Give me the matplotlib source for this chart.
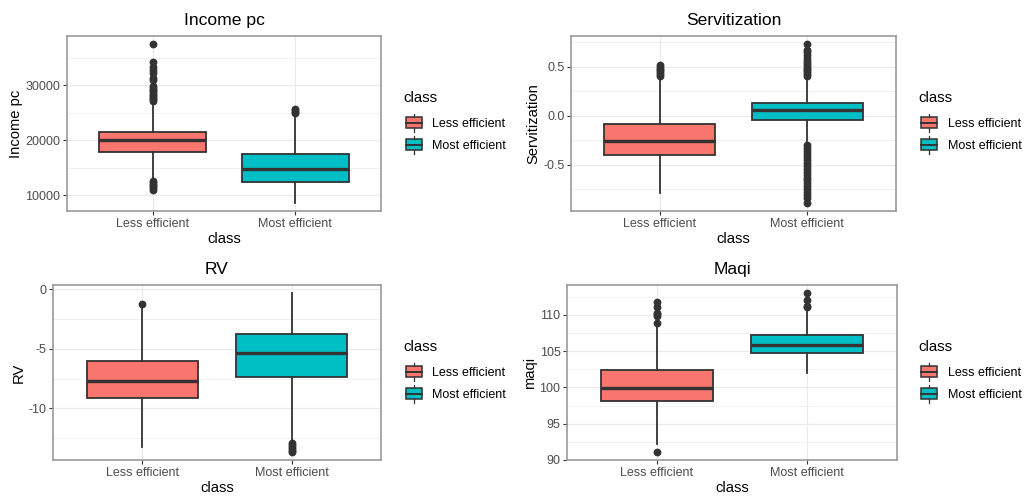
import matplotlib
matplotlib.use("Agg")
import matplotlib.pyplot as plt
from matplotlib.patches import Rectangle, Patch
from matplotlib.lines import Line2D
from matplotlib.legend_handler import HandlerBase
from matplotlib.ticker import FixedLocator

plt.rcParams["font.family"] = ["Liberation Sans", "DejaVu Sans"]
plt.rcParams["axes.unicode_minus"] = False

classes = ["Less efficient", "Most efficient"]
fills = ["#F8766D", "#00BFC4"]

# box summaries per class: [Less efficient, Most efficient]
income_med = [19950, 14700]
income_q1 = [17850, 12400]
income_q3 = [21450, 17450]
income_lo = [12800, 8550]
income_hi = [26900, 24800]
income_out = [
    [11000, 11300, 11600, 11900, 12200, 12500,
     27100, 27400, 27700, 28000, 28300, 28600, 28900, 29200, 29500, 29800,
     30900, 31300, 32300, 32800, 33300, 34200, 37500],
    [25000, 25200, 25400, 25600],
]

serv_med = [-0.258, 0.058]
serv_q1 = [-0.398, -0.040]
serv_q3 = [-0.088, 0.133]
serv_lo = [-0.785, -0.27]
serv_hi = [0.38, 0.38]
serv_out = [
    [0.40, 0.42, 0.44, 0.46, 0.48, 0.50, 0.52],
    [0.40, 0.42, 0.44, 0.46, 0.48, 0.50, 0.52, 0.54, 0.56, 0.59, 0.62, 0.65, 0.67, 0.73,
     -0.30, -0.33, -0.36, -0.39, -0.42, -0.45, -0.48, -0.51, -0.54, -0.57, -0.60,
     -0.63, -0.66, -0.69, -0.72, -0.75, -0.78, -0.81, -0.84, -0.89],
]

rv_med = [-7.71, -5.34]
rv_q1 = [-9.12, -7.40]
rv_q3 = [-6.00, -3.76]
rv_lo = [-13.28, -12.80]
rv_hi = [-1.40, -0.31]
rv_out = [
    [-1.22],
    [-12.95, -13.10, -13.25, -13.40, -13.55, -13.67],
]

maqi_med = [99.95, 105.9]
maqi_q1 = [98.1, 104.7]
maqi_q3 = [102.4, 107.2]
maqi_lo = [92.25, 102.0]
maqi_hi = [108.6, 110.8]
maqi_out = [
    [91.1, 108.9, 109.8, 110.1, 110.3, 111.0, 111.8],
    [111.0, 111.2, 112.0, 113.0],
]

# (title, y label, stats..., major breaks, minor breaks, label format,
#  panel box in px [left, top, right, bottom], legend anchor in px [x, title y])
panels = [
    ("Income pc", "Income pc", income_med, income_q1, income_q3, income_lo, income_hi, income_out,
     [10000, 20000, 30000], [15000, 25000, 35000], "{:.0f}",
     [67, 36, 381, 211], [403, 98]),
    ("Servitization", "Servitization", serv_med, serv_q1, serv_q3, serv_lo, serv_hi, serv_out,
     [-0.5, 0.0, 0.5], [-0.75, -0.25, 0.25, 0.75], "{:.1f}",
     [571, 36, 896, 211], [918, 98]),
    ("RV", "RV", rv_med, rv_q1, rv_q3, rv_lo, rv_hi, rv_out,
     [-10, -5, 0], [-12.5, -7.5, -2.5], "{:.0f}",
     [53, 285, 381, 460], [403, 347]),
    ("Maqi", "maqi", maqi_med, maqi_q1, maqi_q3, maqi_lo, maqi_hi, maqi_out,
     [90, 95, 100, 105, 110], [92.5, 97.5, 102.5, 107.5, 112.5], "{:.0f}",
     [567, 285, 897, 460], [918, 347]),
]

W, H = 1024, 496
dark = "#333333"
grid = "#EBEBEB"


class BoxKeyHandler(HandlerBase):
    # small boxplot glyph used as legend key
    def create_artists(self, legend, orig_handle, xdescent, ydescent,
                       width, height, fontsize, trans):
        x0, y0 = -xdescent, -ydescent
        bot, top = y0 + 0.18 * height, y0 + 0.82 * height
        box = Rectangle((x0 + 0.04 * width, bot), 0.92 * width, top - bot,
                        facecolor=orig_handle.get_facecolor(), edgecolor=dark,
                        lw=1.1, transform=trans)
        cx = x0 + width / 2
        w1 = Line2D([cx, cx], [y0, bot], color=dark, lw=0.9, transform=trans)
        w2 = Line2D([cx, cx], [top, y0 + height], color=dark, lw=0.9, transform=trans)
        med = Line2D([x0 + 0.04 * width, x0 + 0.96 * width], [(bot + top) / 2] * 2,
                     color=dark, lw=1.4, transform=trans)
        return [box, w1, w2, med]


fig = plt.figure(figsize=(W / 100, H / 100), dpi=100)

for (title, ylab, med, q1, q3, lo, hi, out, major, minor, fmt, box_px, leg_px) in panels:
    l, t, r, b = box_px
    ax = fig.add_axes([l / W, 1 - b / H, (r - l) / W, (b - t) / H])

    stats = []
    for i in range(len(classes)):
        stats.append({"med": med[i], "q1": q1[i], "q3": q3[i],
                      "whislo": lo[i], "whishi": hi[i], "fliers": out[i],
                      "label": classes[i]})
    bp = ax.bxp(stats, positions=[1, 2], widths=0.75, patch_artist=True,
                showcaps=False, zorder=3,
                boxprops=dict(edgecolor=dark, linewidth=1.3),
                whiskerprops=dict(color=dark, linewidth=1.3),
                medianprops=dict(color=dark, linewidth=2.4),
                flierprops=dict(marker="o", markerfacecolor=dark, markeredgecolor=dark,
                                markersize=4.6, linestyle="none"))
    for patch, fc in zip(bp["boxes"], fills):
        patch.set_facecolor(fc)

    # ggplot-style 5% expansion of the data range
    vals = lo + hi + [v for o in out for v in o]
    vmin, vmax = min(vals), max(vals)
    pad = (vmax - vmin) * 0.05
    ax.set_ylim(vmin - pad, vmax + pad)
    ax.set_xlim(0.4, 2.6)

    ax.yaxis.set_major_locator(FixedLocator(major))
    ax.yaxis.set_minor_locator(FixedLocator(minor))
    ax.set_yticks(major)
    ax.set_yticklabels([fmt.format(v) for v in major])
    ax.set_xticks([1, 2])
    ax.set_xticklabels(classes)

    ax.set_axisbelow(True)
    ax.grid(True, which="major", color=grid, lw=0.9, zorder=0)
    ax.grid(True, which="minor", axis="y", color=grid, lw=0.5, zorder=0)
    for sp in ax.spines.values():
        sp.set_color("#9a9a9a")
        sp.set_linewidth(1.2)
    ax.tick_params(axis="both", which="major", length=2.7, width=0.8, color=dark,
                   labelsize=9, labelcolor="#4D4D4D", pad=2)
    ax.tick_params(axis="y", which="minor", length=0)

    ax.set_title(title, fontsize=12.6, color="black", pad=8)
    ax.set_xlabel("class", fontsize=10.6, labelpad=1.5)
    ax.set_ylabel(ylab, fontsize=10.6, labelpad=2)

    # legend: title drawn as text, keys as a frameless legend beneath it
    lx, ty = leg_px
    fig.text(lx / W, 1 - ty / H, "class", fontsize=10.8, ha="left", va="center")
    handles = [Patch(facecolor=fc, label=c) for fc, c in zip(fills, classes)]
    fig.legend(handles=handles, handler_map={Patch: BoxKeyHandler()},
               loc="upper left",
               bbox_to_anchor=((lx + 2) / W, 1 - (ty + 16) / H),
               bbox_transform=fig.transFigure,
               frameon=False, fontsize=9,
               handlelength=1.45, handleheight=1.78, labelspacing=0.36,
               handletextpad=0.75, borderpad=0, borderaxespad=0)

fig.savefig("out.png", dpi=100, facecolor="white")
